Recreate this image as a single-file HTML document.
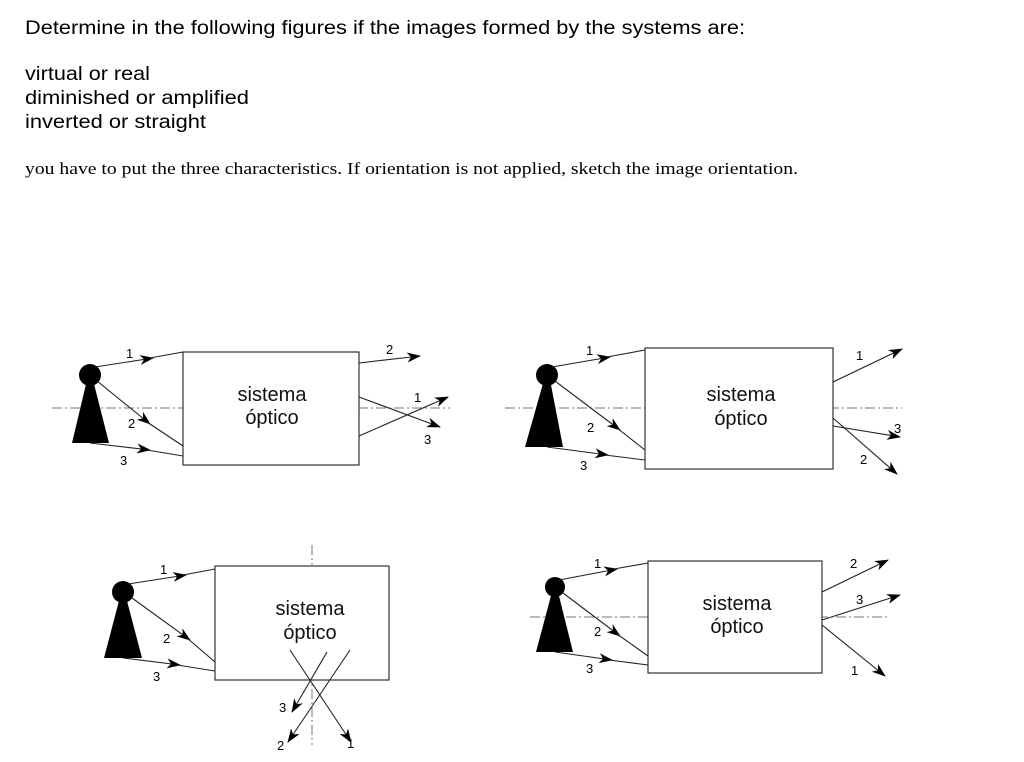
<!DOCTYPE html>
<html><head><meta charset="utf-8"><style>
html,body{margin:0;padding:0;background:#fff;width:1024px;height:762px;overflow:hidden}
svg{display:block}
.s{font-family:"Liberation Sans",sans-serif;fill:#000}
.t{font-family:"Liberation Serif",serif;fill:#000}
.l{stroke:#222;stroke-width:1.1;fill:none}
.ax{stroke:#777;stroke-width:1;stroke-dasharray:10 3 2 3;fill:none}
.bx{stroke:#333;stroke-width:1.2;fill:#fff}
.n{font-family:"Liberation Sans",sans-serif;font-size:13px;fill:#000}
.b{font-family:"Liberation Sans",sans-serif;font-size:20px;fill:#111}
</style></head><body>
<svg width="1024" height="762" viewBox="0 0 1024 762" xmlns="http://www.w3.org/2000/svg">
<defs>
<marker id="a" viewBox="0 0 14 10" refX="13" refY="5" markerWidth="14" markerHeight="10" markerUnits="userSpaceOnUse" orient="auto">
<path d="M0,0 L14,5 L0,10 L4,5 z" fill="#000"/>
</marker>
</defs>
<text class="s" x="25" y="34" font-size="19" textLength="720" lengthAdjust="spacingAndGlyphs">Determine in the following figures if the images formed by the systems are:</text>
<text class="s" x="25" y="80" font-size="19" textLength="125" lengthAdjust="spacingAndGlyphs">virtual or real</text>
<text class="s" x="25" y="104" font-size="19" textLength="224" lengthAdjust="spacingAndGlyphs">diminished or amplified</text>
<text class="s" x="25" y="128" font-size="19" textLength="181" lengthAdjust="spacingAndGlyphs">inverted or straight</text>
<text class="t" x="25" y="174" font-size="17" textLength="773" lengthAdjust="spacingAndGlyphs">you have to put the three characteristics. If orientation is not applied, sketch the image orientation.</text>

<!-- Diagram 1 -->
<line class="ax" x1="52" y1="408" x2="450" y2="408"/>
<rect class="bx" x="183" y="352" width="176" height="113"/>
<text class="b" x="272" y="401" text-anchor="middle">sistema</text>
<text class="b" x="272" y="424" text-anchor="middle">óptico</text>
<circle cx="90" cy="375" r="11" fill="#000"/>
<polygon points="87,380 93,380 109,443 72,443" fill="#000"/>
<line class="l" x1="95" y1="367" x2="153" y2="358" marker-end="url(#a)"/><line class="l" x1="150" y1="358" x2="183" y2="352"/>
<line class="l" x1="97" y1="381" x2="150" y2="424" marker-end="url(#a)"/><line class="l" x1="147" y1="422" x2="183" y2="446"/>
<line class="l" x1="90" y1="443" x2="150" y2="450" marker-end="url(#a)"/><line class="l" x1="147" y1="450" x2="183" y2="456"/>
<line class="l" x1="359" y1="363" x2="420" y2="356" marker-end="url(#a)"/>
<line class="l" x1="359" y1="397" x2="440" y2="427" marker-end="url(#a)"/>
<line class="l" x1="359" y1="436" x2="448" y2="397" marker-end="url(#a)"/>
<text class="n" x="126" y="358">1</text><text class="n" x="386" y="354">2</text>
<text class="n" x="128" y="428">2</text><text class="n" x="120" y="465">3</text>
<text class="n" x="414" y="402">1</text><text class="n" x="424" y="444">3</text>

<!-- Diagram 2 -->
<line class="ax" x1="505" y1="408" x2="902" y2="408"/>
<rect class="bx" x="645" y="348" width="188" height="121"/>
<text class="b" x="741" y="401" text-anchor="middle">sistema</text>
<text class="b" x="741" y="425" text-anchor="middle">óptico</text>
<circle cx="547" cy="375" r="11" fill="#000"/>
<polygon points="544,380 550,380 563,447 525,447" fill="#000"/>
<line class="l" x1="552" y1="367" x2="610" y2="357" marker-end="url(#a)"/><line class="l" x1="607" y1="357" x2="645" y2="350"/>
<line class="l" x1="555" y1="381" x2="620" y2="430" marker-end="url(#a)"/><line class="l" x1="617" y1="428" x2="645" y2="450"/>
<line class="l" x1="547" y1="447" x2="608" y2="455" marker-end="url(#a)"/><line class="l" x1="605" y1="455" x2="645" y2="460"/>
<line class="l" x1="833" y1="382" x2="902" y2="349" marker-end="url(#a)"/>
<line class="l" x1="833" y1="426" x2="900" y2="437" marker-end="url(#a)"/>
<line class="l" x1="833" y1="418" x2="897" y2="474" marker-end="url(#a)"/>
<text class="n" x="586" y="355">1</text><text class="n" x="587" y="432">2</text><text class="n" x="580" y="470">3</text>
<text class="n" x="856" y="360">1</text><text class="n" x="894" y="433">3</text><text class="n" x="860" y="464">2</text>

<!-- Diagram 3 -->
<line class="ax" x1="312" y1="545" x2="312" y2="745"/>
<rect class="bx" x="215" y="566" width="174" height="114"/>
<text class="b" x="310" y="615" text-anchor="middle">sistema</text>
<text class="b" x="310" y="639" text-anchor="middle">óptico</text>
<circle cx="123" cy="592" r="11" fill="#000"/>
<polygon points="120,597 126,597 142,658 104,658" fill="#000"/>
<line class="l" x1="128" y1="584" x2="186" y2="575" marker-end="url(#a)"/><line class="l" x1="183" y1="575" x2="215" y2="569"/>
<line class="l" x1="132" y1="598" x2="190" y2="640" marker-end="url(#a)"/><line class="l" x1="187" y1="638" x2="215" y2="662"/>
<line class="l" x1="123" y1="658" x2="180" y2="665" marker-end="url(#a)"/><line class="l" x1="177" y1="665" x2="215" y2="671"/>
<line class="l" x1="290" y1="650" x2="351" y2="742" marker-end="url(#a)"/>
<line class="l" x1="327" y1="652" x2="292" y2="712" marker-end="url(#a)"/>
<line class="l" x1="350" y1="650" x2="288" y2="742" marker-end="url(#a)"/>
<text class="n" x="160" y="574">1</text><text class="n" x="163" y="643">2</text><text class="n" x="153" y="681">3</text>
<text class="n" x="279" y="712">3</text><text class="n" x="277" y="750">2</text><text class="n" x="347" y="748">1</text>

<!-- Diagram 4 -->
<line class="ax" x1="530" y1="617" x2="888" y2="617"/>
<rect class="bx" x="648" y="561" width="174" height="112"/>
<text class="b" x="737" y="610" text-anchor="middle">sistema</text>
<text class="b" x="737" y="633" text-anchor="middle">óptico</text>
<circle cx="555" cy="587" r="10" fill="#000"/>
<polygon points="552,592 558,592 573,652 536,652" fill="#000"/>
<line class="l" x1="559" y1="580" x2="617" y2="569" marker-end="url(#a)"/><line class="l" x1="614" y1="569" x2="648" y2="563"/>
<line class="l" x1="563" y1="593" x2="620" y2="636" marker-end="url(#a)"/><line class="l" x1="617" y1="634" x2="648" y2="656"/>
<line class="l" x1="555" y1="652" x2="612" y2="660" marker-end="url(#a)"/><line class="l" x1="609" y1="660" x2="648" y2="665"/>
<line class="l" x1="822" y1="592" x2="888" y2="560" marker-end="url(#a)"/>
<line class="l" x1="822" y1="620" x2="900" y2="595" marker-end="url(#a)"/>
<line class="l" x1="822" y1="625" x2="885" y2="676" marker-end="url(#a)"/>
<text class="n" x="594" y="568">1</text><text class="n" x="594" y="636">2</text><text class="n" x="586" y="673">3</text>
<text class="n" x="850" y="568">2</text><text class="n" x="856" y="604">3</text><text class="n" x="851" y="675">1</text>
</svg>
</body></html>
